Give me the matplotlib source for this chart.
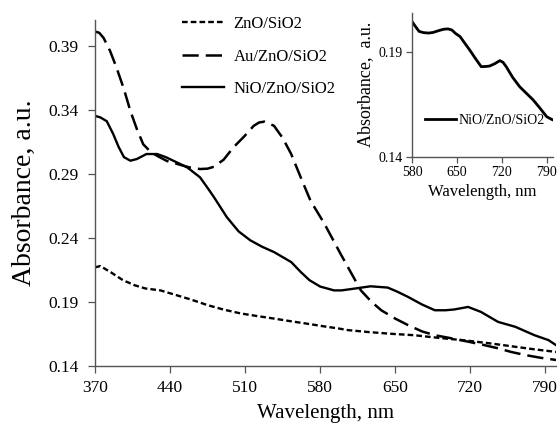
import matplotlib

matplotlib.use("Agg")
import matplotlib.pyplot as plt

plt.rcParams["font.family"] = ["Liberation Serif", "DejaVu Serif"]

# main panel data (wavelength nm, absorbance a.u.)
wl_zno = [370, 375, 385, 396, 407, 417, 431, 445, 459, 475, 490, 506, 521, 537,
          552, 568, 583, 597, 606, 625, 645, 668, 690, 715, 740, 762, 780, 800]
abs_zno = [0.217, 0.218, 0.213, 0.207, 0.203, 0.2005, 0.199, 0.1955, 0.192, 0.1875,
           0.184, 0.181, 0.179, 0.177, 0.175, 0.173, 0.171, 0.1693, 0.168, 0.1665,
           0.1652, 0.164, 0.162, 0.160, 0.1575, 0.155, 0.153, 0.151]

wl_au = [370, 374, 378, 384, 390, 397, 403, 409, 415, 422, 428, 437, 447, 458, 468,
         475, 481, 490, 499, 509, 518, 523, 528, 533, 537, 545, 553, 562, 571, 584,
         599, 610, 618, 628, 637, 650, 662, 675, 687, 700, 718, 732, 746, 758, 771,
         785, 800]
abs_au = [0.401, 0.400, 0.396, 0.386, 0.373, 0.356, 0.339, 0.325, 0.313, 0.307,
          0.304, 0.300, 0.2976, 0.295, 0.2937, 0.294, 0.2955, 0.301, 0.3105, 0.319,
          0.3274, 0.330, 0.3307, 0.329, 0.3274, 0.318, 0.3054, 0.287, 0.269, 0.251,
          0.2276, 0.211, 0.199, 0.190, 0.1835, 0.177, 0.1719, 0.167, 0.164, 0.162,
          0.159, 0.1565, 0.1538, 0.151, 0.1486, 0.1465, 0.1447]

wl_nio = [370, 375, 381, 387, 392, 397, 403, 409, 418, 428, 436, 443, 456, 468, 475,
          481, 493, 504, 515, 526, 537, 545, 553, 562, 570, 580, 593, 600, 612, 627,
          643, 652, 662, 675, 687, 697, 705, 718, 730, 746, 762, 780, 793, 800]
abs_nio = [0.3352, 0.334, 0.331, 0.321, 0.311, 0.303, 0.3002, 0.3015, 0.3054, 0.3054,
           0.303, 0.3002, 0.295, 0.2872, 0.279, 0.2717, 0.2561, 0.245, 0.238, 0.233,
           0.2289, 0.225, 0.2211, 0.2133, 0.207, 0.202, 0.199, 0.199, 0.2004, 0.2022,
           0.2012, 0.198, 0.1939, 0.188, 0.1835, 0.1835, 0.1841, 0.1861, 0.1822,
           0.1744, 0.1706, 0.164, 0.1602, 0.1563]

# inset data (NiO/ZnO/SiO2, 580-800 nm)
wl_inset = [580, 585, 591, 598, 606, 613, 621, 629, 636, 642, 648, 655, 662, 670,
            679, 688, 695, 701, 709, 717, 722, 727, 737, 748, 758, 769, 779, 790,
            797, 800]
abs_inset = [0.2047, 0.2025, 0.200, 0.1994, 0.1992, 0.1995, 0.2003, 0.201, 0.2012,
             0.2007, 0.199, 0.1975, 0.1945, 0.1911, 0.187, 0.1831, 0.1832, 0.1834,
             0.1845, 0.186, 0.1852, 0.1831, 0.178, 0.1735, 0.1705, 0.1672, 0.1635,
             0.1592, 0.158, 0.1576]

x_ticks = [370, 440, 510, 580, 650, 720, 790]
y_ticks = [0.14, 0.19, 0.24, 0.29, 0.34, 0.39]
inset_x_ticks = [580, 650, 720, 790]
inset_y_ticks = [0.14, 0.19]

W, H = 557, 434
fig = plt.figure(figsize=(W / 100, H / 100), dpi=100)
ax = fig.add_axes([95 / W, 1 - 366 / H, 461 / W, 346 / H])

ax.plot(wl_zno, abs_zno, color="black", lw=1.7, dashes=(2.4, 1.3), label="ZnO/SiO2")
ax.plot(wl_au, abs_au, color="black", lw=1.8, dashes=(6.5, 2.8), label="Au/ZnO/SiO2")
ax.plot(wl_nio, abs_nio, color="black", lw=1.7, label="NiO/ZnO/SiO2")

ax.set_xlim(370, 800)
ax.set_ylim(0.14, 0.41)
ax.set_xticks(x_ticks)
ax.set_yticks(y_ticks)
ax.set_xticklabels([str(t) for t in x_ticks])
ax.set_yticklabels([f"{t:.2f}" for t in y_ticks])
ax.tick_params(direction="out", length=5, width=0.9, color="#555555",
               labelsize=12.5, pad=5)
ax.tick_params(axis="y", pad=7)
for s in ("top", "right"):
    ax.spines[s].set_visible(False)
for s in ("left", "bottom"):
    ax.spines[s].set_color("#555555")
    ax.spines[s].set_linewidth(1.0)
ax.set_xlabel("Wavelength, nm", fontsize=15, labelpad=6)
ax.set_ylabel("Absorbance, a.u.", fontsize=20, labelpad=8)

ax.legend(loc="upper left", bbox_to_anchor=(182 / W, 1 - 16 / H),
          bbox_transform=fig.transFigure, frameon=False, fontsize=12,
          handlelength=2.5, handletextpad=0.6, labelspacing=1.0,
          borderpad=0, borderaxespad=0)

# inset
axi = fig.add_axes([412 / W, 1 - 156.7 / H, 141 / W, 143.7 / H])
axi.plot(wl_inset, abs_inset, color="black", lw=2.0, label="NiO/ZnO/SiO2")
axi.set_xlim(580, 800)
axi.set_ylim(0.14, 0.2088)
axi.set_xticks(inset_x_ticks)
axi.set_yticks(inset_y_ticks)
axi.set_xticklabels([str(t) for t in inset_x_ticks])
axi.set_yticklabels([f"{t:.2f}" for t in inset_y_ticks])
axi.tick_params(direction="out", length=4, width=0.9, color="#555555",
                labelsize=10, pad=3)
for s in ("top", "right"):
    axi.spines[s].set_visible(False)
for s in ("left", "bottom"):
    axi.spines[s].set_color("#555555")
    axi.spines[s].set_linewidth(1.0)
axi.set_xlabel("Wavelength, nm", fontsize=12, labelpad=3)
axi.set_ylabel("Absorbance,  a.u.", fontsize=13, labelpad=3)
axi.legend(loc="upper left", bbox_to_anchor=(425 / W, 1 - 114 / H),
           bbox_transform=fig.transFigure, frameon=False, fontsize=10,
           handlelength=2.2, handletextpad=0.2, borderpad=0, borderaxespad=0)

fig.savefig("out.png", dpi=100)
plt.close(fig)
